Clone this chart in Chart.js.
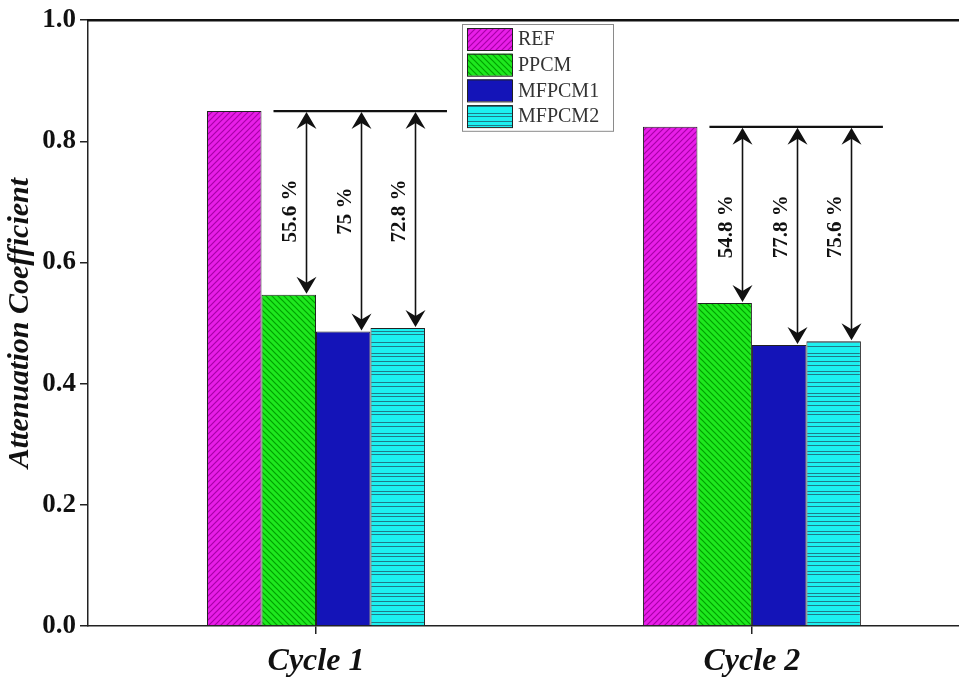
<!DOCTYPE html>
<html>
<head>
<meta charset="utf-8">
<script src="https://cdn.jsdelivr.net/npm/chart.js@4/dist/chart.umd.min.js"></script>
<style>
  html, body { margin: 0; padding: 0; background: #ffffff; overflow: hidden; }
  #wrap { width: 959px; height: 680px; position: relative; }
</style>
</head>
<body>
<div id="wrap"><canvas id="c" width="959" height="680"></canvas></div>
<script>
// ---- data ----
const categories = ['Cycle 1', 'Cycle 2'];
const seriesNames = ['REF', 'PPCM', 'MFPCM1', 'MFPCM2'];
const refValues = [0.850, 0.824];
const ppcmValues = [0.547, 0.533];
const mfpcm1Values = [0.486, 0.464];
const mfpcm2Values = [0.492, 0.470];
// reduction relative to REF, for PPCM / MFPCM1 / MFPCM2 in each cycle
const reductionLabels = [
  ['55.6 %', '75 %', '72.8 %'],
  ['54.8 %', '77.8 %', '75.6 %']
];
const yTickValues = [0, 0.2, 0.4, 0.6, 0.8, 1.0];

const SERIF = "'Liberation Serif', 'Times New Roman', serif";
const canvas = document.getElementById('c');
const ctx = canvas.getContext('2d');

// ---- fill patterns ----
function diagonalPattern(bg, fg, ascending) {
  const s = 6;
  const c = document.createElement('canvas');
  c.width = s; c.height = s;
  const g = c.getContext('2d');
  g.fillStyle = bg; g.fillRect(0, 0, s, s);
  g.strokeStyle = fg; g.lineWidth = 1.2;
  g.beginPath();
  if (ascending) {
    g.moveTo(0, s); g.lineTo(s, 0);
    g.moveTo(-1, 1); g.lineTo(1, -1);
    g.moveTo(s - 1, s + 1); g.lineTo(s + 1, s - 1);
  } else {
    g.moveTo(0, 0); g.lineTo(s, s);
    g.moveTo(-1, s - 1); g.lineTo(1, s + 1);
    g.moveTo(s - 1, -1); g.lineTo(s + 1, 1);
  }
  g.stroke();
  return ctx.createPattern(c, 'repeat');
}
function horizontalPattern(bg, fg) {
  const w = 8, h = 40;
  const c = document.createElement('canvas');
  c.width = w; c.height = h;
  const g = c.getContext('2d');
  g.fillStyle = bg; g.fillRect(0, 0, w, h);
  g.strokeStyle = fg; g.lineWidth = 1;
  g.beginPath();
  [1.5, 5.5, 11.5, 14.5, 22.5, 26.5, 33.5, 36.5].forEach(y => { g.moveTo(0, y); g.lineTo(w, y); });
  g.stroke();
  return ctx.createPattern(c, 'repeat');
}

const fills = [
  diagonalPattern('#e81ee8', '#a800a8', true),
  diagonalPattern('#1ee81e', '#00a000', false),
  '#1414b8',
  horizontalPattern('#1cf0f0', '#1f7a88')
];

const seriesValues = [refValues, ppcmValues, mfpcm1Values, mfpcm2Values];
const datasets = seriesNames.map((name, d) => ({
  label: name,
  data: categories.map((_, i) => ({ x: i, y: seriesValues[d][i] })),
  backgroundColor: fills[d],
  borderColor: '#222222',
  borderWidth: 1,
  categoryPercentage: 0.5,
  barPercentage: 1.0
}));

// ---- frame line along the top of the plot ----
const topFrame = {
  id: 'topFrame',
  afterDraw(chart) {
    const { ctx, chartArea } = chart;
    ctx.save();
    ctx.strokeStyle = '#111';
    ctx.lineWidth = 2.5;
    ctx.beginPath();
    ctx.moveTo(chartArea.left - 1, chartArea.top);
    ctx.lineTo(chartArea.right, chartArea.top);
    ctx.stroke();
    ctx.restore();
  }
};

// ---- REF level line, double arrows and reduction labels ----
function arrowHead(ctx, x, y, dir) {
  // dir = -1 points up, +1 points down; (x, y) is the tip
  ctx.beginPath();
  ctx.moveTo(x, y);
  ctx.lineTo(x - 10, y - dir * 17);
  ctx.lineTo(x, y - dir * 11);
  ctx.lineTo(x + 10, y - dir * 17);
  ctx.closePath();
  ctx.fill();
}
const reductionMarks = {
  id: 'reductionMarks',
  afterDatasetsDraw(chart) {
    const { ctx } = chart;
    ctx.save();
    ctx.strokeStyle = '#111';
    ctx.fillStyle = '#111';
    categories.forEach((_, i) => {
      const refBar = chart.getDatasetMeta(0).data[i];
      const lastBar = chart.getDatasetMeta(3).data[i];
      const refY = refBar.y;
      ctx.lineWidth = 2.2;
      ctx.beginPath();
      ctx.moveTo(refBar.x + refBar.width / 2 + 12, refY);
      ctx.lineTo(lastBar.x + lastBar.width / 2 + 22, refY);
      ctx.stroke();
      for (let d = 1; d < 4; d++) {
        const bar = chart.getDatasetMeta(d).data[i];
        const ax = Math.round(bar.x + bar.width * 0.32) + 0.5;
        ctx.lineWidth = 1.6;
        ctx.beginPath();
        ctx.moveTo(ax, refY + 10);
        ctx.lineTo(ax, bar.y - 10);
        ctx.stroke();
        arrowHead(ctx, ax, refY + 1, -1);
        arrowHead(ctx, ax, bar.y - 1, 1);
        ctx.save();
        ctx.translate(ax - 16, refY + 100);
        ctx.rotate(-Math.PI / 2);
        ctx.font = 'bold 21px ' + SERIF;
        ctx.textAlign = 'center';
        ctx.textBaseline = 'middle';
        ctx.fillText(reductionLabels[i][d - 1], 0, 0);
        ctx.restore();
      }
    });
    ctx.restore();
  }
};

// ---- boxed legend inside the plot ----
const boxLegend = {
  id: 'boxLegend',
  afterDraw(chart) {
    const { ctx } = chart;
    const left = 462, top = 24, w = 151, rowH = 25.7;
    const rows = chart.data.datasets.length;
    ctx.save();
    ctx.fillStyle = '#ffffff';
    ctx.fillRect(left, top, w, rowH * rows + 4);
    ctx.strokeStyle = '#8a8a8a';
    ctx.lineWidth = 1;
    ctx.strokeRect(left + 0.5, top + 0.5, w, rowH * rows + 4);
    chart.data.datasets.forEach((ds, k) => {
      const y = top + 4 + k * rowH;
      ctx.fillStyle = ds.backgroundColor;
      ctx.fillRect(left + 5, y, 45, 22);
      ctx.strokeStyle = '#222';
      ctx.strokeRect(left + 5.5, y + 0.5, 45, 22);
      ctx.fillStyle = '#333';
      ctx.font = '20px ' + SERIF;
      ctx.textAlign = 'left';
      ctx.textBaseline = 'middle';
      ctx.fillText(ds.label, left + 56, y + 12);
    });
    ctx.restore();
  }
};

new Chart(canvas, {
  type: 'bar',
  data: { datasets },
  plugins: [topFrame, reductionMarks, boxLegend],
  options: {
    responsive: false,
    animation: false,
    layout: { padding: { top: 19, right: 0, left: 0, bottom: 0 } },
    plugins: { legend: { display: false }, tooltip: { enabled: false } },
    scales: {
      x: {
        type: 'linear',
        min: -0.523,
        max: 1.475,
        offset: false,
        afterBuildTicks: s => { s.ticks = categories.map((_, i) => ({ value: i })); },
        afterFit: s => { s.height = 54; },
        ticks: {
          autoSkip: false,
          maxRotation: 0,
          padding: 9,
          color: '#111',
          font: { family: SERIF, style: 'italic', weight: 'bold', size: 32 },
          callback: v => categories[v] ?? ''
        },
        grid: { offset: false, drawOnChartArea: false, drawTicks: true, tickLength: 8, color: '#222', lineWidth: 1.5 },
        border: { display: true, color: '#222', width: 1.5 }
      },
      y: {
        min: 0,
        max: 1,
        afterBuildTicks: s => { s.ticks = yTickValues.map(v => ({ value: v })); },
        afterFit: s => { s.width = 88; },
        ticks: {
          padding: 4,
          color: '#111',
          font: { family: SERIF, weight: 'bold', size: 27 },
          callback: v => Number(v).toFixed(1)
        },
        grid: { drawOnChartArea: false, drawTicks: true, tickLength: 8, color: '#222', lineWidth: 1.5 },
        border: { display: true, color: '#222', width: 1.5 },
        title: {
          display: true,
          text: 'Attenuation Coefficient',
          color: '#111',
          font: { family: SERIF, style: 'italic', weight: 'bold', size: 30 },
          padding: { top: 2, bottom: 0 }
        }
      }
    }
  }
});
</script>
</body>
</html>
